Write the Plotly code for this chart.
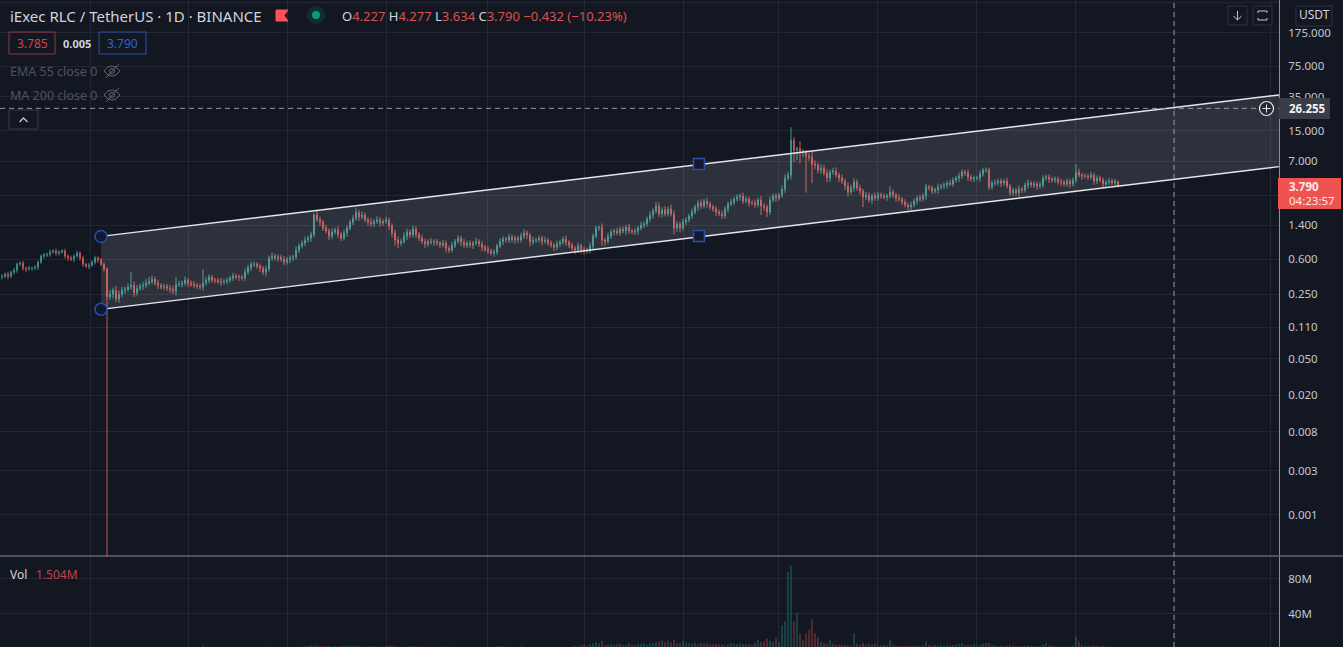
import numpy as np
import plotly.graph_objects as go

W, H = 1343, 647

# daily closes (USDT)
closes = [
    .39,.415,.39,.435,.457,.53,.545,.48,.47,.48,
    .48,.49,.56,.65,.665,.68,.72,.74,.70,.72,
    .74,.65,.62,.60,.65,.70,.62,.53,.505,.518,
    .56,.62,.587,.53,.47,.235,.25,.276,.222,.25,
    .276,.283,.30,.313,.26,.29,.305,.313,.33,.345,
    .365,.33,.313,.30,.305,.29,.283,.27,.32,.32,
    .33,.355,.33,.32,.313,.305,.30,.33,.355,.385,
    .355,.355,.345,.34,.345,.355,.375,.395,.385,.385,
    .375,.435,.49,.53,.53,.505,.48,.435,.47,.62,
    .65,.62,.635,.60,.56,.60,.62,.635,.755,.84,
    .90,.97,1.02,1.12,1.82,1.62,1.52,1.31,1.22,1.07,
    1.19,1.25,1.12,1.02,1.16,1.31,1.52,1.67,1.93,1.73,
    1.82,1.62,1.52,1.45,1.55,1.62,1.49,1.55,1.6,1.38,
    1.16,.97,.90,.94,1.07,1.19,1.10,1.28,1.12,1.02,
    .94,.88,.94,.92,.94,.90,.855,.90,.79,.755,
    .855,.94,1.02,.92,.855,.90,.855,.90,.94,.88,
    .81,.77,.74,.70,.72,.84,.94,1.0,.97,1.05,
    .97,1.02,.97,1.07,1.16,1.10,.92,.97,.97,1.02,
    .94,.97,.90,.855,.81,.88,.92,1.0,.92,.855,
    .79,.755,.84,.77,.755,.74,.84,1.07,1.31,1.34,
    .97,.94,1.07,1.19,1.22,1.16,1.28,1.22,1.34,1.22,
    1.19,1.22,1.31,1.41,1.45,1.65,1.82,2.01,2.28,1.87,
    2.06,1.87,2.12,1.87,1.31,1.45,1.31,1.52,1.61,1.77,
    1.96,2.22,2.46,2.28,2.58,2.40,2.22,2.12,1.96,1.87,
    1.77,2.12,2.40,2.52,2.71,2.85,2.93,2.58,2.71,2.46,
    2.46,2.34,2.65,2.28,2.22,1.96,2.65,2.93,2.78,3.0,
    3.48,4.58,4.94,11.8,9.22,9.69,8.77,8.99,7.94,7.74,
    6.5,6.34,5.6,5.88,5.19,4.58,5.32,5.46,4.94,4.58,
    4.25,3.75,3.23,3.57,4.15,3.57,3.31,2.85,3.0,2.65,
    2.93,2.78,3.0,2.93,2.85,2.93,3.23,3.0,2.78,2.71,
    2.52,2.34,2.22,2.34,2.58,2.78,2.71,2.93,3.66,3.57,
    3.31,3.40,3.66,3.75,3.85,4.05,3.95,4.36,4.58,4.82,
    5.32,5.19,4.70,4.47,4.58,4.58,5.06,5.60,5.60,3.66,
    4.05,4.05,4.25,4.05,4.25,3.75,3.15,3.40,3.15,3.48,
    3.40,3.85,4.05,3.85,3.95,3.75,3.85,4.58,4.70,4.47,
    4.36,4.47,4.15,4.15,3.95,4.25,3.95,4.36,5.32,4.94,
    4.82,4.82,4.70,4.94,4.25,4.58,4.36,3.95,4.15,4.25,
    4.05,4.227,3.79,
]

# wick lengths above / below the candle body, in percent
upper_wick = [
    6,4,6,4,6,4,4,6,4,6, 4,6,4,4,6,4,6,4,6,4, 4,6,4,6,4,6,4,6,4,6,
    4,6,4,6,4,4,12,7,12,10, 9,7,9,39,10,9,7,9,11,12, 10,7,9,6,7,6,9,10,20,9,
    7,10,6,7,9,6,7,42,9,7, 6,7,6,9,6,7,6,9,6,7, 6,9,7,6,7,6,7,6,9,7,
    9,6,7,6,9,6,7,6,9,6, 7,9,6,7,5,10,7,6,9,7, 9,6,10,7,9,7,6,9,12,7,
    9,6,7,10,6,9,7,6,9,6, 7,9,10,7,10,9,6,9,7,6, 9,7,6,9,6,7,6,9,6,7,
    9,6,7,6,9,6,7,6,9,6, 7,6,9,6,7,6,9,7,6,9, 6,7,6,9,10,7,6,9,6,7,
    6,9,6,7,6,9,7,6,9,6, 7,6,9,6,7,6,9,7,6,4, 10,6,9,7,6,9,6,7,6,9,
    6,7,6,9,7,6,9,7,11,9, 7,10,6,11,9,7,6,9,7,6, 9,6,7,10,6,9,7,6,7,6,
    9,7,6,9,6,7,6,9,7,6, 7,9,6,10,7,6,9,6,7,6, 9,10,9,39,8,4,19,6,3,9,
    19,10,7,11,9,10,7,9,10,7, 9,7,10,9,10,7,9,6,9,7, 6,9,7,6,7,6,16,7,6,9,
    6,7,6,9,7,6,9,7,9,6, 7,6,9,6,7,6,9,7,6,9, 7,6,9,6,7,6,9,6,7,6,
    7,9,6,7,6,9,6,7,6,9, 6,7,9,6,7,6,9,7,6,7, 6,7,6,9,6,7,6,7,22,9,
    6,7,6,9,6,7,6,7,6,9, 6,6,1.2,
]
lower_wick = [
    6,4,7,4,6,6,4,6,7,4, 6,4,6,4,6,4,6,4,6,6, 4,6,6,4,7,4,6,6,4,7,
    4,6,6,4,6,99.87,7,10,7,9, 7,9,6,7,10,7,6,9,7,6, 7,6,9,6,7,6,9,7,10,6,
    7,6,9,6,7,6,7,9,6,7, 6,7,6,9,6,7,6,7,6,9, 6,7,6,9,7,6,9,7,10,6,
    7,6,9,6,7,6,9,7,6,7, 6,7,6,9,7,6,9,7,6,9, 7,6,9,7,6,9,6,7,6,9,
    6,7,9,6,7,6,9,7,6,9, 10,13,12,7,6,9,7,6,9,7, 6,9,7,6,9,6,7,6,9,7,
    6,7,6,9,6,7,6,9,6,7, 9,6,7,6,9,7,6,9,6,7, 6,9,7,6,7,9,10,6,7,6,
    9,6,7,6,9,6,7,6,9,7, 6,9,7,10,11,7,6,9,6,7, 13,10,6,7,9,6,7,6,9,7,
    6,7,9,6,7,6,7,9,6,7, 9,6,7,6,14,9,10,6,7,6, 7,6,9,7,6,9,6,7,9,6,
    7,6,9,6,7,6,9,7,6,9, 6,7,6,20,9,12,7,6,9,6, 7,9,6,10,26,22,24,12,60,9,
    38,10,7,9,6,10,9,7,6,9, 7,9,10,6,9,7,9,22,7,6, 9,7,6,7,6,9,6,7,9,6,
    7,6,7,7,6,9,7,6,9,6, 7,6,9,6,7,9,6,7,6,9, 6,7,9,6,7,6,9,6,7,7,
    6,7,6,9,7,6,7,7,6,9, 7,6,9,6,7,9,6,7,6,9, 6,7,6,9,7,6,9,6,7,6,
    9,6,7,6,9,7,6,9,6,7, 6,6,4.1,
]
# volume in millions
volume = [
    .5,.6,.4,.7,.5,.9,.8,.6,.5,.6, .5,.7,.9,1.0,.8,.7,.8,.9,.7,.6,
    .7,.9,.8,.6,.8,2.9,1.0,.9,.7,.6, .8,.9,.7,1.0,1.3,2.0,1.7,1.2,1.5,1.4,
    1.1,1.3,1.2,3.0,1.2,1.0,1.1,.9,1.0,1.2, 1.1,.9,.8,.9,.8,.7,.8,.9,2.9,1.0,
    .9,1.0,.8,.9,.8,.7,.9,3.6,1.4,1.2, .9,1.0,.8,.9,.8,1.0,.9,.8,.9,1.0,
    1.1,1.8,3.0,2.0,1.5,1.2,1.1,1.0,3.2,2.0, 1.8,1.3,1.4,1.2,1.1,1.3,1.4,3.0,2.0,2.5,
    2.9,3.1,3.4,3.9,4.5,4.0,3.5,3.4,3.1,3.3, 3.0,3.2,2.9,3.3,3.6,3.8,4.0,3.5,3.9,3.2,
    3.0,2.9,3.3,3.1,3.4,3.0,2.8,3.1,3.3,4.0, 3.6,3.2,2.8,2.6,2.5,2.9,3.4,3.1,2.8,2.7,
    3.2,2.6,2.9,2.7,3.0,2.6,2.9,2.5,3.1,2.7, 2.5,3.0,2.6,2.4,2.2,2.1,2.4,2.0,2.3,1.9,
    2.0,2.1,1.9,1.8,2.2,3.0,3.2,3.1,2.9,2.6, 3.0,2.7,2.4,3.1,2.6,2.4,2.7,2.2,2.0,1.9,
    2.1,1.9,1.8,2.2,2.0,1.9,2.3,3.0,2.4,2.1, 2.9,3.6,3.2,4.2,5.0,3.8,5.5,6.2,8.0,6.5,
    9.5,4.4,5.0,5.5,4.8,5.2,6.0,4.4,5.0,6.5, 4.5,4.2,5.5,5.8,6.5,5.0,6.3,7.2,8.0,8.5,
    9.5,8.0,9.5,7.5,10.5,6.5,7.0,9.0,7.2,6.5, 6.0,7.5,6.0,7.2,6.0,6.5,5.5,5.0,5.8,5.5,
    5.2,4.0,5.5,7.0,6.0,5.5,6.5,5.8,6.0,5.5, 4.8,7.0,11,8.0,9.0,12,9.5,8.5,13,8,
    27,32,88,95,31,41,18,10,18,22, 34,18,14,8,7,6,10,6,5,5,
    4.5,4.5,5,4,18,6,5,7,5,6, 5,6,4,4,5,4,10,5,4,3.5,
    3.5,3.2,3.4,3.8,4.0,4.0,3.5,4.5,9,5, 4,4.5,4,4.5,4,5,4,4.5,5,6,
    7,5,4.5,4,5.5,4,5,6,7,7, 5,4,3.5,4,3.5,4,5,4,3.5,3.5,
    3.5,4,4.5,3.5,3.2,3.2,3.5,5,7,4, 3.5,3,3.2,3,3,3.2,3,3.5,14,9,
    5,4,3.5,3.2,4.2,3.5,3.2,3.8,3,2.8, 2.7,3,1.504,
]

price_ticks = [375, 175, 75, 35, 15, 7, 3, 1.4, .6, .25, .11, .05, .02, .008, .003, .001]
price_labels = ["375.000", "175.000", "75.000", "35.000", "15.000", "7.000", "3.000", "1.400",
                "0.600", "0.250", "0.110", "0.050", "0.020", "0.008", "0.003", "0.001"]
vol_ticks = [40e6, 80e6]
vol_labels = ["40M", "80M"]
time_grid = [29.33, 62, 95, 128, 161.67, 194, 227, 258.67, 291.67, 325, 358, 391, 423]

# channel drawing, anchors in candle index / price
channel_x = [35, 425.67]
channel_upper = [1.085, 36.7]
channel_lower = [.1745, 6.1]
fill_x = [33, 425.67, 425.67, 33]
fill_y = [1.06, 36.7, 6.1, .168]
round_handles_x, round_handles_y = [33, 33], [1.06, .172]
square_handles_x, square_handles_y = [232.33, 232.33], [6.5, 1.076]

crosshair_price = 26.255
crosshair_x = 390.67

BG = "#131722"
GRID = "#232733"
AXIS = "#8b8e97"
TXT = "#d1d4dc"
UP = "#45a79b"
DOWN = "#e5605d"
FONT = "Noto Sans"

x = np.arange(len(closes))
c = np.array(closes)
o = np.r_[.385, c[:-1]]
o[-1] = 4.227
top = np.maximum(o, c) * (1 + np.array(upper_wick) / 100)
bot = np.minimum(o, c) * (1 - np.array(lower_wick) / 100)
vol_colors = ["rgba(38,166,154,.55)" if a >= b else "rgba(239,83,80,.55)" for a, b in zip(c, o)]

fig = go.Figure()
fig.add_trace(go.Candlestick(
    x=x, open=o, high=top, low=bot, close=c, whiskerwidth=0, opacity=.85,
    increasing=dict(line=dict(color=UP, width=1), fillcolor=UP),
    decreasing=dict(line=dict(color=DOWN, width=1), fillcolor=DOWN),
    hoverinfo="skip",
))
fig.add_trace(go.Bar(x=x, y=np.array(volume) * 1e6, marker=dict(color=vol_colors, line_width=0),
                     width=.36, xaxis="x2", yaxis="y2", hoverinfo="skip"))
# fill goes over the candles, it greys them like the reference
fig.add_trace(go.Scatter(x=fill_x, y=fill_y, fill="toself", mode="none",
                         fillcolor="rgba(255,255,255,.115)", hoverinfo="skip"))
for ys in (channel_upper, channel_lower):
    fig.add_trace(go.Scatter(x=channel_x, y=ys, mode="lines", line=dict(color="#e4e6ea", width=1.4), hoverinfo="skip"))
fig.add_trace(go.Scatter(x=[-.67, 425.67], y=[crosshair_price] * 2, mode="lines",
                         line=dict(color="#9598a1", width=1, dash="5px,4px"), hoverinfo="skip"))
fig.add_trace(go.Scatter(x=round_handles_x, y=round_handles_y, mode="markers", hoverinfo="skip",
                         marker=dict(symbol="circle", size=12, color="#131a2e", line=dict(color="#2a4fa8", width=1.5))))
fig.add_trace(go.Scatter(x=square_handles_x, y=square_handles_y, mode="markers", hoverinfo="skip",
                         marker=dict(symbol="square", size=11, color="#131a2e", line=dict(color="#2a4fa8", width=1.5))))


def px(v):
    return v / W


def py(v):
    return 1 - v / H


shapes = []


def rect(x0, y0, x1, y1, fill="rgba(0,0,0,0)", line=None):
    shapes.append(dict(type="rect", xref="paper", yref="paper", x0=px(x0), y0=py(y0), x1=px(x1), y1=py(y1),
                       fillcolor=fill, line=dict(color=line or "rgba(0,0,0,0)", width=1), layer="above"))


def circle(cx, cy, r, fill="rgba(0,0,0,0)", line=None, w=1):
    shapes.append(dict(type="circle", xref="paper", yref="paper", x0=px(cx - r), y0=py(cy - r), x1=px(cx + r), y1=py(cy + r),
                       fillcolor=fill, line=dict(color=line or "rgba(0,0,0,0)", width=w), layer="above"))


def poly(points, color, fill="rgba(0,0,0,0)", closed=False, w=1):
    d = "M" + " L".join(f"{px(a):.5f},{py(b):.5f}" for a, b in points) + (" Z" if closed else "")
    shapes.append(dict(type="path", xref="paper", yref="paper", path=d, fillcolor=fill,
                       line=dict(color=color, width=w), layer="above"))


def eye(cx, cy):
    col = "#62656f"
    poly([(cx - 8, cy), (cx - 4, cy - 4), (cx, cy - 5), (cx + 4, cy - 4), (cx + 8, cy), (cx + 4, cy + 4), (cx, cy + 5), (cx - 4, cy + 4)],
         col, closed=True)
    circle(cx, cy, 2.5, line=col)
    poly([(cx - 6, cy + 7), (cx + 7, cy - 7)], col)


# pane separator and crosshair
shapes.append(dict(type="line", xref="paper", yref="paper", x0=0, x1=1, y0=py(556), y1=py(556),
                   line=dict(color="#8b8e97", width=1), layer="above"))
shapes.append(dict(type="line", xref="x", yref="paper", x0=crosshair_x, x1=crosshair_x, y0=0, y1=1,
                   line=dict(color="#9598a1", width=1, dash="5px,4px"), layer="above"))

# right side price labels
rect(1279, 98, 1330, 119, fill="#3a3d47")
circle(1266.5, 108.5, 7, fill="#262932", line="#e8e9ec", w=1.2)
poly([(1262.5, 108.5), (1270.5, 108.5)], "#e8e9ec")
poly([(1266.5, 104.5), (1266.5, 112.5)], "#e8e9ec")
rect(1278, 178, 1341, 209, fill="#ef5350")

# top right buttons
rect(1228, 6, 1247, 25, fill=BG, line="#2f333e")
rect(1253, 6, 1272, 25, fill=BG, line="#2f333e")
rect(1296, 6, 1332, 26, fill=BG, line="#2f333e")
poly([(1237.5, 11), (1237.5, 20)], "#c5c7cd")
poly([(1233.5, 16), (1237.5, 20), (1241.5, 16)], "#c5c7cd")
poly([(1258, 13), (1258, 11), (1267, 11), (1267, 13)], "#c5c7cd")
poly([(1258, 18), (1258, 20), (1267, 20), (1267, 18)], "#c5c7cd")

# header bits
poly([(276, 10), (288, 10), (284, 15.5), (288, 21), (276, 21)], "#ff5252", fill="#ff5252", closed=True)
circle(316, 15, 9, fill="rgba(8,153,129,.18)")
circle(316, 15, 4, fill="#089981")
rect(9, 32, 55, 54, line="#8f3a40")
rect(99, 32, 146, 54, line="#2b50a8")
eye(112, 71)
eye(112, 95)
rect(9, 110, 38, 129, fill=BG, line="#363a45")
poly([(19.5, 122), (23.5, 118), (27.5, 122)], "#c5c7cd", w=1.3)

fig.update_layout(shapes=shapes)


def label(text, xx, yy, size=12, color=TXT, anchor="left"):
    fig.add_annotation(text=text, xref="paper", yref="paper", x=px(xx), y=py(yy), xanchor=anchor, yanchor="middle",
                       showarrow=False, font=dict(family=FONT, size=size, color=color), borderpad=0)


RED = "#d9534f"
label("iExec RLC / TetherUS · 1D · BINANCE", 9, 16, size=15)
label(f'O<span style="color:{RED}">4.227</span> H<span style="color:{RED}">4.277</span> '
      f'L<span style="color:{RED}">3.634</span> C<span style="color:{RED}">3.790</span> '
      f'<span style="color:{RED}">−0.432 (−10.23%)</span>', 341, 16, size=13)
label("3.785", 32, 43, color="#d5434a", anchor="center")
label("<b>0.005</b>", 77, 43, size=11, color="#d1d4dc", anchor="center")
label("3.790", 122.5, 43, color="#2f62d8", anchor="center")
label("EMA 55 close 0", 9, 72, color="#50535e", size=12.5)
label("MA 200 close 0", 9, 96, color="#50535e", size=12.5)
label("USDT", 1314, 15, anchor="center", color="#d1d4dc")
label("<b>26.255</b>", 1288, 109, color="#f0f1f3", size=11.5)
label("<b>3.790</b>", 1288, 187, color="#ffe9e9", size=11.5)
label("04:23:57", 1288, 200.5, color="#ffe9e9", size=11.5)
label("Vol", 9, 574, color="#d1d4dc")
label("1.504M", 35, 574, color="#b8474a")

pane_split = (H - 556) / H
fig.update_layout(
    width=W, height=H, autosize=False, showlegend=False,
    margin=dict(l=0, r=0, t=0, b=0),
    paper_bgcolor=BG, plot_bgcolor=BG,
    font=dict(family=FONT, size=11.5, color="#c3c6ce"),
    barmode="overlay", boxgap=.6,
    xaxis=dict(domain=[0, 1279 / W], range=[-.67, 425.67], anchor="y", rangeslider=dict(visible=False),
               tickvals=time_grid, ticktext=[""] * len(time_grid), ticks="", showgrid=True, gridcolor=GRID,
               gridwidth=1, zeroline=False, showline=False),
    yaxis=dict(domain=[pane_split, 1], type="log", range=[-3.447, 2.597], side="right", anchor="x",
               tickvals=price_ticks, ticktext=price_labels, ticks="", ticklabelstandoff=6,
               showgrid=True, gridcolor=GRID, gridwidth=1, zeroline=False, showline=True, linecolor=AXIS, linewidth=1),
    xaxis2=dict(domain=[0, 1279 / W], matches="x", anchor="y2", tickvals=time_grid, ticktext=[""] * len(time_grid),
                ticks="", showgrid=True, gridcolor=GRID, gridwidth=1, zeroline=False, showline=False),
    yaxis2=dict(domain=[0, (H - 557) / H], range=[2.3e6, 105e6], side="right", anchor="x2",
                tickvals=vol_ticks, ticktext=vol_labels, ticks="", ticklabelstandoff=6,
                showgrid=True, gridcolor=GRID, gridwidth=1, zeroline=False, showline=True, linecolor=AXIS, linewidth=1),
)

# default page has an 8px body margin, the chart has to sit in the corner
fig.write_html("out.html", config=dict(displayModeBar=False),
               post_script="document.body.style.margin='0';document.body.style.overflow='hidden';")
